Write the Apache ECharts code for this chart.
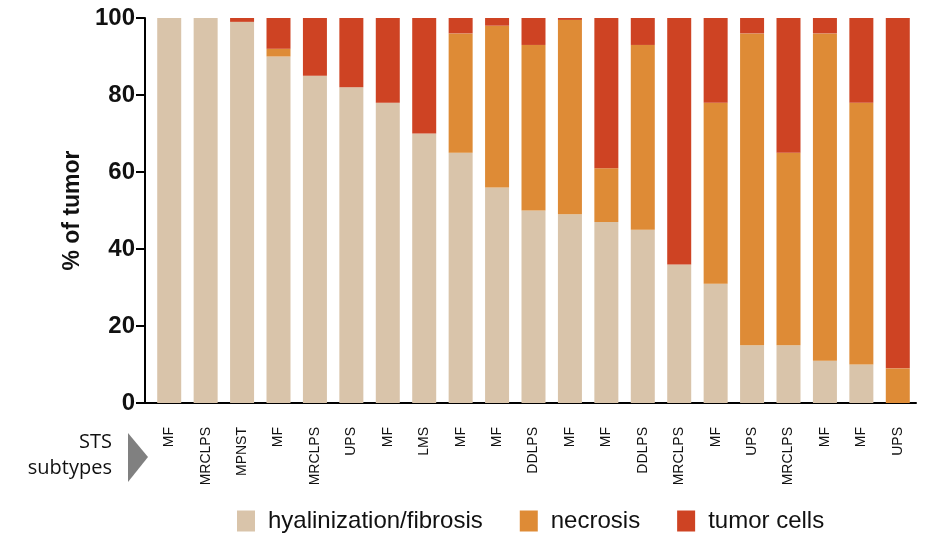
<!DOCTYPE html>
<html><head><meta charset="utf-8">
<script src="https://cdn.jsdelivr.net/npm/echarts@6/dist/echarts.min.js"></script>
<style>html,body{margin:0;padding:0;background:#fff}#c{width:937px;height:535px}</style>
</head><body><div id="c"></div>
<script>
var categories = ['MF','MRCLPS','MPNST','MF','MRCLPS','UPS','MF','LMS','MF','MF','DDLPS','MF','MF','DDLPS','MRCLPS','MF','UPS','MRCLPS','MF','MF','UPS'];
var fibrosis = [100,100,99,90,85,82,78,70,65,56,50,49,47,45,36,31,15,15,11,10,0];
var necrosis = [0,0,0,2,0,0,0,0,31,42,43,50.5,14,48,0,47,81,50,85,68,9];
var tumorCells = [0,0,1,8,15,18,22,30,4,2,7,0.5,39,7,64,22,4,35,4,22,91];
var yTicks = [0,20,40,60,80,100];
var seriesNames = ['hyalinization/fibrosis','necrosis','tumor cells'];
var colors = ['#D9C4AA','#DE8B36','#CE4323'];
var FONT = 'Liberation Sans, Arial, sans-serif';

var chart = echarts.init(document.getElementById('c'));
function mk(name, data, color){
  return {name:name,type:'bar',stack:'a',data:data,barWidth:24,
    itemStyle:{color:color},emphasis:{disabled:true}};
}
chart.setOption({
  animation:false,
  grid:{left:151,top:18,width:765,height:385,containLabel:false},
  legend:{left:237,top:509,padding:0,itemWidth:18,itemHeight:21,itemGap:37,
    icon:'rect',selectedMode:false,
    textStyle:{fontFamily:FONT,fontSize:24,color:'#111',padding:[0,0,0,8]},
    data:seriesNames},
  xAxis:{type:'category',data:categories,
    axisLine:{onZero:false,lineStyle:{color:'#000',width:2}},
    axisTick:{alignWithLabel:true,length:10,lineStyle:{color:'#000',width:2}},
    axisLabel:{rotate:90,margin:24,fontFamily:FONT,fontSize:14,color:'#111',interval:0}},
  yAxis:{type:'value',min:0,max:100,interval:20,offset:6,
    name:'% of tumor',nameLocation:'middle',nameGap:60,
    nameTextStyle:{fontFamily:FONT,fontWeight:'bold',fontSize:23,color:'#111'},
    splitLine:{show:false},
    axisLine:{show:true,lineStyle:{color:'#000',width:2}},
    axisTick:{show:true,length:9,lineStyle:{color:'#000',width:2}},
    axisLabel:{margin:10,fontFamily:FONT,fontWeight:'bold',fontSize:24,color:'#111'}},
  graphic:[
    {type:'line',shape:{x1:144,y1:403,x2:152,y2:403},style:{stroke:'#000',lineWidth:2}},
    {type:'text',right:937-112,top:432,style:{text:'STS',fontFamily:'Open Sans',fontSize:20,fill:'#111',textAlign:'right'}},
    {type:'text',right:937-112,top:458,style:{text:'subtypes',fontFamily:'Open Sans',fontSize:20,fill:'#111',textAlign:'right'}},
    {type:'polygon',shape:{points:[[128,433],[148,457],[128,482]]},style:{fill:'#808080'}}
  ],
  series:[mk(seriesNames[0],fibrosis,colors[0]),mk(seriesNames[1],necrosis,colors[1]),mk(seriesNames[2],tumorCells,colors[2])]
});
</script></body></html>
